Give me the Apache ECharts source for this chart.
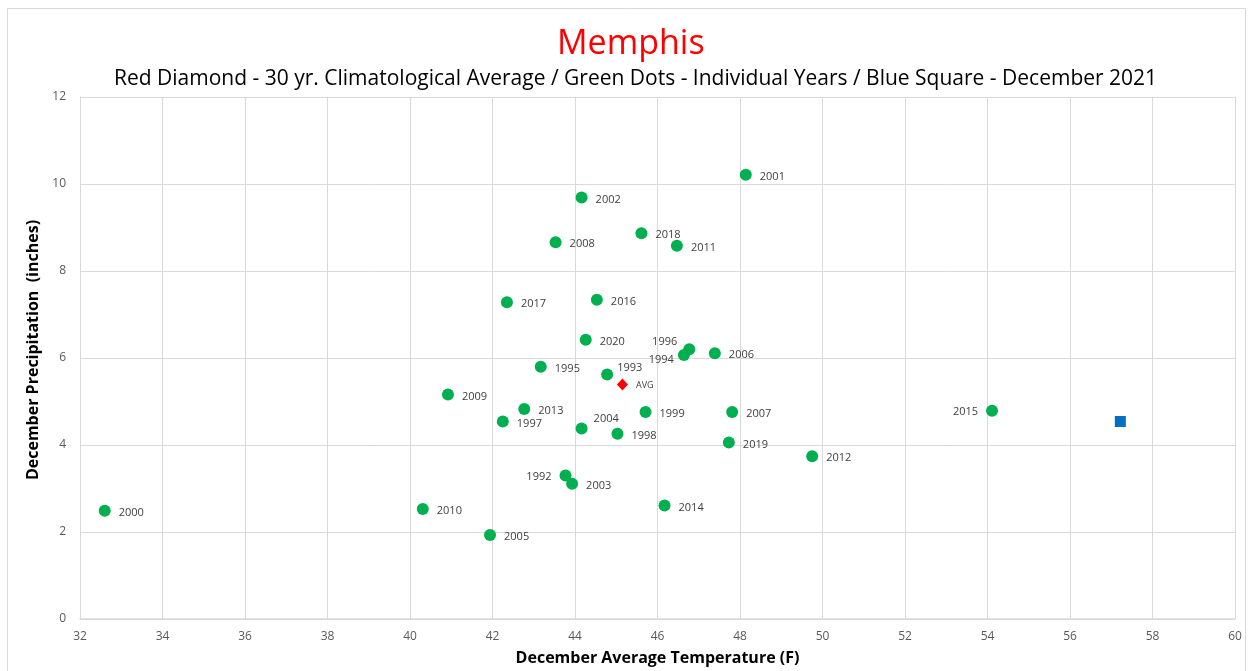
<!DOCTYPE html>
<html>
<head>
<meta charset="utf-8">
<script src="https://cdn.jsdelivr.net/npm/echarts@6/dist/echarts.min.js"></script>
<style>
  html, body { margin: 0; padding: 0; background: #fff; }
  #chart { width: 1250px; height: 671px; }
</style>
</head>
<body>
<div id="chart"></div>
<script>
// December values per year (temperature F, precipitation inches)
var years = ['1992','1993','1994','1995','1996','1997','1998','1999','2000','2001',
             '2002','2003','2004','2005','2006','2007','2008','2009','2010','2011',
             '2012','2013','2014','2015','2016','2017','2018','2019','2020'];
var temps = [43.77, 44.78, 46.64, 43.17, 46.77, 42.25, 45.03, 45.71, 32.60, 48.14,
             44.16, 43.93, 44.16, 41.94, 47.39, 47.81, 43.53, 40.92, 40.31, 46.47,
             49.75, 42.77, 46.17, 54.11, 44.53, 42.35, 45.61, 47.73, 44.26];
var precip = [3.30, 5.62, 6.07, 5.80, 6.20, 4.54, 4.26, 4.76, 2.49, 10.21,
              9.69, 3.11, 4.38, 1.93, 6.11, 4.76, 8.66, 5.16, 2.53, 8.58,
              3.74, 4.83, 2.61, 4.79, 7.34, 7.28, 8.87, 4.06, 6.42];
var avgPoint = [45.15, 5.39];      // 30 yr climatological average
var dec2021 = [57.22, 4.54];       // December 2021
var xTicks = [32, 60, 2];
var yTicks = [0, 12, 2];

var font = 'Open Sans';
var chart = echarts.init(document.getElementById('chart'));

// labels that do not sit plainly to the right of their dot
var labelTweaks = {
  '1992': { position: 'left', distance: 8, offset: [0, 1] },
  '2015': { position: 'left', distance: 8, offset: [0, 1] },
  '1996': { position: 'left', distance: 6, offset: [0, -7] },
  '1994': { position: 'left', distance: 4, offset: [0, 5] },
  '1993': { position: 'right', distance: 4, offset: [0, -7] },
  '2004': { position: 'right', distance: 6, offset: [0, -10] }
};

var yearData = years.map(function (y, i) {
  var item = { name: y, value: [temps[i], precip[i]] };
  if (labelTweaks[y]) item.label = labelTweaks[y];
  return item;
});

var option = {
  animation: false,
  backgroundColor: '#fff',
  textStyle: { fontFamily: font },
  title: [
    {
      text: 'Memphis',
      left: 552, top: 22,
      textStyle: { color: '#ff0000', fontSize: 34, fontWeight: 'normal', fontFamily: font }
    },
    {
      text: 'Red Diamond - 30 yr. Climatological Average / Green Dots - Individual Years / Blue Square - December 2021',
      left: 109, top: 64,
      textStyle: { color: '#000', fontSize: 21, fontWeight: 'normal', fontFamily: font }
    }
  ],
  graphic: [{
    type: 'rect',
    shape: { x: 7.5, y: 8.5, width: 1238, height: 680 },
    style: { fill: 'none', stroke: '#d9d9d9', lineWidth: 1 },
    silent: true
  }],
  grid: { left: 80, right: 15, top: 97, bottom: 49 },
  xAxis: {
    type: 'value',
    min: xTicks[0], max: xTicks[1], interval: xTicks[2],
    name: 'December Average Temperature (F)',
    nameLocation: 'middle', nameGap: 31,
    nameTextStyle: { color: '#000', fontSize: 16, fontWeight: 'bold', fontFamily: font },
    axisLine: { lineStyle: { color: '#d9d9d9', width: 1.5 } },
    axisTick: { show: false },
    axisLabel: { color: '#595959', fontSize: 12, margin: 12 },
    splitLine: { lineStyle: { color: '#d9d9d9' } }
  },
  yAxis: {
    type: 'value',
    min: yTicks[0], max: yTicks[1], interval: yTicks[2],
    name: 'December Precipitation  (inches)',
    nameLocation: 'middle', nameGap: 30,
    nameTextStyle: { color: '#000', fontSize: 16, fontWeight: 'bold', fontFamily: font,
                     padding: [0, 0, 0, 16] },
    axisLine: { show: true, lineStyle: { color: '#d9d9d9' } },
    axisTick: { show: false },
    axisLabel: { color: '#595959', fontSize: 12, margin: 14 },
    splitLine: { lineStyle: { color: '#d9d9d9' } }
  },
  series: [
    {
      name: 'Years',
      type: 'scatter',
      symbol: 'circle',
      symbolSize: 12,
      itemStyle: { color: '#00b050', opacity: 1 },
      label: {
        show: true, position: 'right', distance: 8, offset: [0, 2],
        formatter: '{b}', color: '#404040', fontSize: 11, fontFamily: font
      },
      data: yearData
    },
    {
      name: 'AVG',
      type: 'scatter',
      symbol: 'diamond',
      symbolSize: [11, 12],
      itemStyle: { color: '#ff0000', opacity: 1 },
      label: {
        show: true, position: 'right', distance: 8, offset: [0, 1],
        formatter: 'AVG', color: '#404040', fontSize: 9, fontFamily: font
      },
      data: [avgPoint]
    },
    {
      name: 'December 2021',
      type: 'scatter',
      symbol: 'rect',
      symbolSize: 11,
      itemStyle: { color: '#0070c0', opacity: 1 },
      data: [dec2021]
    }
  ]
};

chart.setOption(option);
</script>
</body>
</html>
